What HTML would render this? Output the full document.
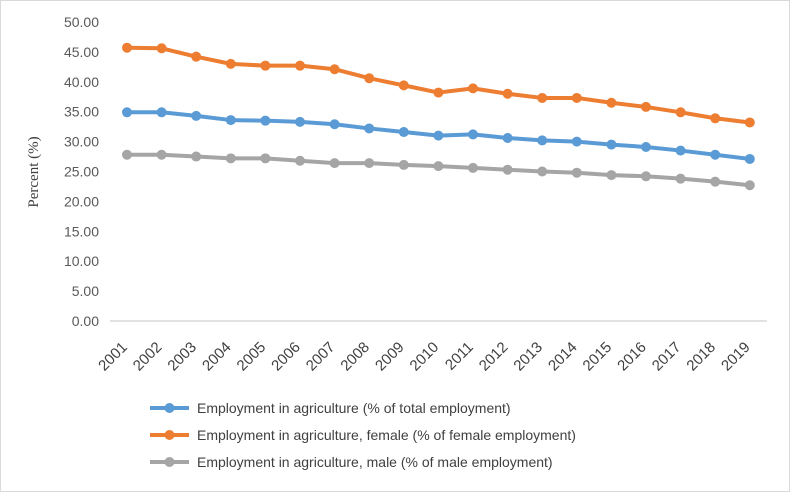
<!DOCTYPE html>
<html><head><meta charset="utf-8"><style>
body{margin:0;background:#fff;}
svg{display:block;font-family:"Liberation Sans",sans-serif;}
</style></head><body>
<svg id="c" width="790" height="492">
<rect x="0.5" y="0.5" width="789" height="491" fill="#fff" stroke="#d9d9d9"/>
<text x="0" y="0" transform="translate(38,172) rotate(-90)" text-anchor="middle" font-family="Liberation Serif,serif" font-size="15" fill="#404040">Percent (%)</text>
<g id="yt"></g><g id="xt"></g><g id="series"></g><g id="legend"></g>
</svg>
<script>
const years=["2001","2002","2003","2004","2005","2006","2007","2008","2009","2010","2011","2012","2013","2014","2015","2016","2017","2018","2019"];
const total=[34.9,34.9,34.3,33.6,33.5,33.3,32.9,32.2,31.6,31.0,31.2,30.6,30.2,30.0,29.5,29.1,28.5,27.8,27.1];
const female=[45.7,45.6,44.2,43.0,42.7,42.7,42.1,40.6,39.4,38.2,38.9,38.0,37.3,37.3,36.5,35.8,34.9,33.9,33.2];
const male=[27.8,27.8,27.5,27.2,27.2,26.8,26.4,26.4,26.1,25.9,25.6,25.3,25.0,24.8,24.4,24.2,23.8,23.3,22.7];
const yTicks=[0,5,10,15,20,25,30,35,40,45,50];
const NS="http://www.w3.org/2000/svg";
const y=v=>321-v*5.98;
const x=i=>127+i*34.6;
function mk(t,a,p){const e=document.createElementNS(NS,t);for(const k in a)e.setAttribute(k,a[k]);p.appendChild(e);return e;}
const yt=document.getElementById('yt');
yTicks.forEach(v=>{
 const t=mk('text',{x:99,y:y(v)+5,'text-anchor':'end','font-size':14,fill:'#595959'},yt);
 t.textContent=v.toFixed(2);
 
 
});
const ax=mk('line',{x1:110,x2:767,y1:y(0),y2:y(0),stroke:'#d9d9d9','stroke-width':1.5},yt);


const xt=document.getElementById('xt');
years.forEach((yr,i)=>{
 const t=mk('text',{x:0,y:0,'text-anchor':'end','font-size':15,fill:'#404040',transform:`translate(${x(i)+1},${y(0)+27}) rotate(-45)`},xt);
 t.textContent=yr;
 
 
});
const series=[[male,'#a5a5a5','male-series'],[total,'#5b9bd5','total-series'],[female,'#ed7d31','female-series']];
const sg=document.getElementById('series');
series.forEach(([d,c,n])=>{
 const g=mk('g',{},sg);
 
 
 mk('polyline',{points:d.map((v,i)=>x(i)+','+y(v)).join(' '),fill:'none',stroke:c,'stroke-width':4,'stroke-linejoin':'round'},g);
 d.forEach((v,i)=>{
  const p=mk('circle',{cx:x(i),cy:y(v),r:5,fill:c},g);
  
  
 });
});
const lg=document.getElementById('legend');
const le=[['#5b9bd5','Employment in agriculture (% of total employment)'],['#ed7d31','Employment in agriculture, female (% of female employment)'],['#a5a5a5','Employment in agriculture, male (% of male employment)']];
le.forEach(([c,t],i)=>{
 const g=mk('g',{},lg);
 
 
 const yy=408+i*27;
 mk('line',{x1:150,x2:189,y1:yy,y2:yy,stroke:c,'stroke-width':4},g);
 mk('circle',{cx:169.5,cy:yy,r:5,fill:c},g);
 const tx=mk('text',{x:197,y:yy+5,'font-size':14,fill:'#404040'},g);
 tx.textContent=t;
});
</script>
</body></html>
